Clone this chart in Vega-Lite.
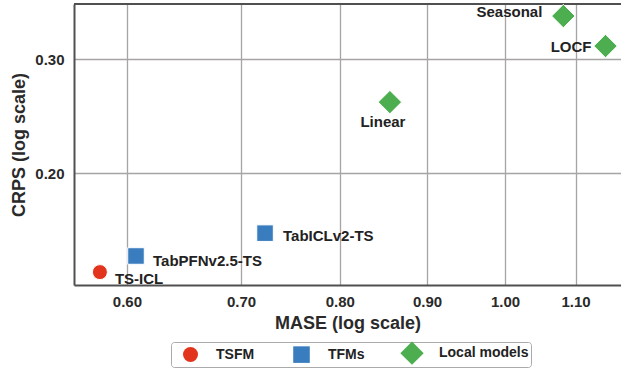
{
  "$schema": "https://vega.github.io/schema/vega-lite/v6.json",
  "width": 547,
  "height": 281,
  "autosize": {"type": "none"},
  "padding": {"left": 74, "top": 4, "right": 0, "bottom": 84},
  "background": "white",
  "config": {
    "font": "Liberation Sans",
    "view": {"stroke": null},
    "axis": {"labelFont": "Liberation Sans", "titleFont": "Liberation Sans"}
  },
  "data": {
    "values": [
      {"model": "TS-ICL", "group": "TSFM", "mase": 0.5785, "crps": 0.1406},
      {"model": "TabPFNv2.5-TS", "group": "TFMs", "mase": 0.6074, "crps": 0.1489},
      {"model": "TabICLv2-TS", "group": "TFMs", "mase": 0.7231, "crps": 0.1615},
      {"model": "Linear", "group": "Local models", "mase": 0.856, "crps": 0.2574},
      {"model": "Seasonal", "group": "Local models", "mase": 1.082, "crps": 0.3496},
      {"model": "LOCF", "group": "Local models", "mase": 1.1455, "crps": 0.3142}
    ]
  },
  "encoding": {
    "x": {
      "field": "mase", "type": "quantitative",
      "scale": {"type": "log", "domain": [0.5586, 1.1697], "nice": false, "zero": false},
      "axis": {
        "title": "MASE (log scale)", "values": [0.6, 0.7, 0.8, 0.9, 1.0, 1.1], "format": ".2f",
        "domainColor": "#505050", "domainWidth": 2, "ticks": false,
        "grid": true, "gridColor": "#a9a4a4", "gridWidth": 1.3,
        "labelFontSize": 15, "labelFontWeight": "bold", "labelColor": "#2a2a2a", "labelPadding": 9,
        "titleFontSize": 18, "titleFontWeight": "bold", "titleColor": "#2a2a2a", "titlePadding": 5
      }
    },
    "y": {
      "field": "crps", "type": "quantitative",
      "scale": {"type": "log", "domain": [0.1343, 0.3649], "nice": false, "zero": false},
      "axis": {
        "title": "CRPS (log scale)", "values": [0.2, 0.3], "format": ".2f",
        "domainColor": "#505050", "domainWidth": 2, "ticks": false,
        "grid": true, "gridColor": "#a9a4a4", "gridWidth": 1.3,
        "labelFontSize": 15, "labelFontWeight": "bold", "labelColor": "#2a2a2a", "labelPadding": 10,
        "titleFontSize": 18, "titleFontWeight": "bold", "titleColor": "#2a2a2a", "titlePadding": 6
      }
    }
  },
  "layer": [
    {
      "mark": {"type": "rule", "color": "#505050", "strokeWidth": 2},
      "encoding": {
        "x": {"datum": 0.5586, "type": "quantitative", "scale": {"type": "log", "domain": [0.5586, 1.1697], "nice": false, "zero": false}},
        "x2": {"datum": 1.1697},
        "y": {"datum": 0.3649, "type": "quantitative", "scale": {"type": "log", "domain": [0.1343, 0.3649], "nice": false, "zero": false}}
      }
    },
    {
      "mark": {"type": "point", "filled": true, "opacity": 1, "stroke": "white", "strokeWidth": 1},
      "encoding": {
        "color": {
          "field": "group", "type": "nominal",
          "scale": {"domain": ["TSFM", "TFMs", "Local models"], "range": ["#e2341c", "#3a7dbf", "#4cae4f"]},
          "legend": {
            "title": null, "orient": "none", "direction": "horizontal",
            "legendX": 97, "legendY": 338,
            "strokeColor": "#aaaaaa", "cornerRadius": 3, "padding": 2,
            "symbolSize": 150, "symbolStrokeWidth": 0, "symbolOffset": 10, "labelOffset": 18, "columnPadding": 28,
            "labelFontSize": 14, "labelFontWeight": "bold", "labelColor": "#222222", "labelFont": "Liberation Sans",
            "symbolOpacity": 1
          }
        },
        "shape": {
          "field": "group", "type": "nominal",
          "scale": {"domain": ["TSFM", "TFMs", "Local models"], "range": ["circle", "square", "M-1.3,0L0,-1.3L1.3,0L0,1.3Z"]}
        },
        "size": {
          "field": "group", "type": "nominal",
          "scale": {"domain": ["TSFM", "TFMs", "Local models"], "range": [225, 324, 341]},
          "legend": null
        }
      }
    },
    {
      "transform": [{"filter": "datum.model == 'TS-ICL'"}],
      "mark": {"type": "text", "align": "left", "baseline": "middle", "dx": 15, "dy": 7, "fontSize": 15, "fontWeight": "bold", "color": "#222222"},
      "encoding": {"text": {"field": "model"}}
    },
    {
      "transform": [{"filter": "datum.model == 'TabPFNv2.5-TS'"}],
      "mark": {"type": "text", "align": "left", "baseline": "middle", "dx": 17, "dy": 5, "fontSize": 15, "fontWeight": "bold", "color": "#222222"},
      "encoding": {"text": {"field": "model"}}
    },
    {
      "transform": [{"filter": "datum.model == 'TabICLv2-TS'"}],
      "mark": {"type": "text", "align": "left", "baseline": "middle", "dx": 18, "dy": 3, "fontSize": 15, "fontWeight": "bold", "color": "#222222"},
      "encoding": {"text": {"field": "model"}}
    },
    {
      "transform": [{"filter": "datum.model == 'Linear'"}],
      "mark": {"type": "text", "align": "center", "baseline": "middle", "dx": -7, "dy": 20, "fontSize": 15, "fontWeight": "bold", "color": "#222222"},
      "encoding": {"text": {"field": "model"}}
    },
    {
      "transform": [{"filter": "datum.model == 'Seasonal'"}],
      "mark": {"type": "text", "align": "right", "baseline": "middle", "dx": -21, "dy": -4, "fontSize": 15, "fontWeight": "bold", "color": "#222222"},
      "encoding": {"text": {"field": "model"}}
    },
    {
      "transform": [{"filter": "datum.model == 'LOCF'"}],
      "mark": {"type": "text", "align": "right", "baseline": "middle", "dx": -14, "dy": 1, "fontSize": 15, "fontWeight": "bold", "color": "#222222"},
      "encoding": {"text": {"field": "model"}}
    }
  ]
}
